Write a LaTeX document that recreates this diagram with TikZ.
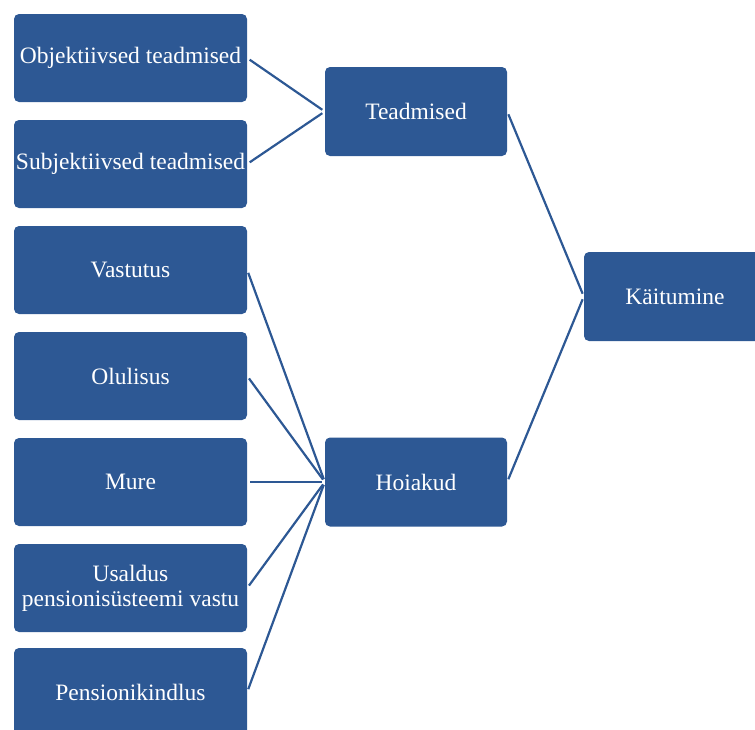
\documentclass[tikz,border=0pt]{standalone}
\usepackage{fontspec}
\setmainfont{Liberation Serif}
\definecolor{boxblue}{RGB}{45,88,148}
\begin{document}
\begin{tikzpicture}[x=1pt,y=-1pt,
  box/.style={rectangle, rounded corners=5pt, fill=boxblue, text=white,
    minimum width=233pt, minimum height=88pt, inner sep=0pt, align=center,
    font=\fontsize{23.5}{25}\selectfont},
  midbox/.style={box, minimum width=182pt, minimum height=89pt},
  link/.style={draw=boxblue, line width=2.2pt, shorten <=3pt, shorten >=3pt}]
\useasboundingbox (0,0) rectangle (755,729);
\clip (0,0) rectangle (755,729);
% left column
\node[box] (obj) at (130.5,58) {Objektiivsed teadmised};
\node[box] (sub) at (130.5,164) {Subjektiivsed teadmised};
\node[box] (vas) at (130.5,270) {Vastutus};
\node[box] (olu) at (130.5,376) {Olulisus};
\node[box] (mur) at (130.5,482) {Mure};
\node[box] (usa) at (130.5,588) {Usaldus\\pensionisüsteemi vastu};
\node[box] (pen) at (130.5,692) {Pensionikindlus};
% middle column
\node[midbox] (tea) at (416,111.5) {Teadmised};
\node[midbox] (hoi) at (416,482) {Hoiakud};
% right column
\node[midbox] (kai) at (675,296.5) {Käitumine};
% connectors
\foreach \s in {obj,sub} \draw[link] (\s.east) -- (tea.west);
\foreach \s in {vas,olu,mur,usa,pen} \draw[link] (\s.east) -- (hoi.west);
\draw[link] (tea.east) -- (kai.west);
\draw[link] (hoi.east) -- (kai.west);
\end{tikzpicture}
\end{document}
